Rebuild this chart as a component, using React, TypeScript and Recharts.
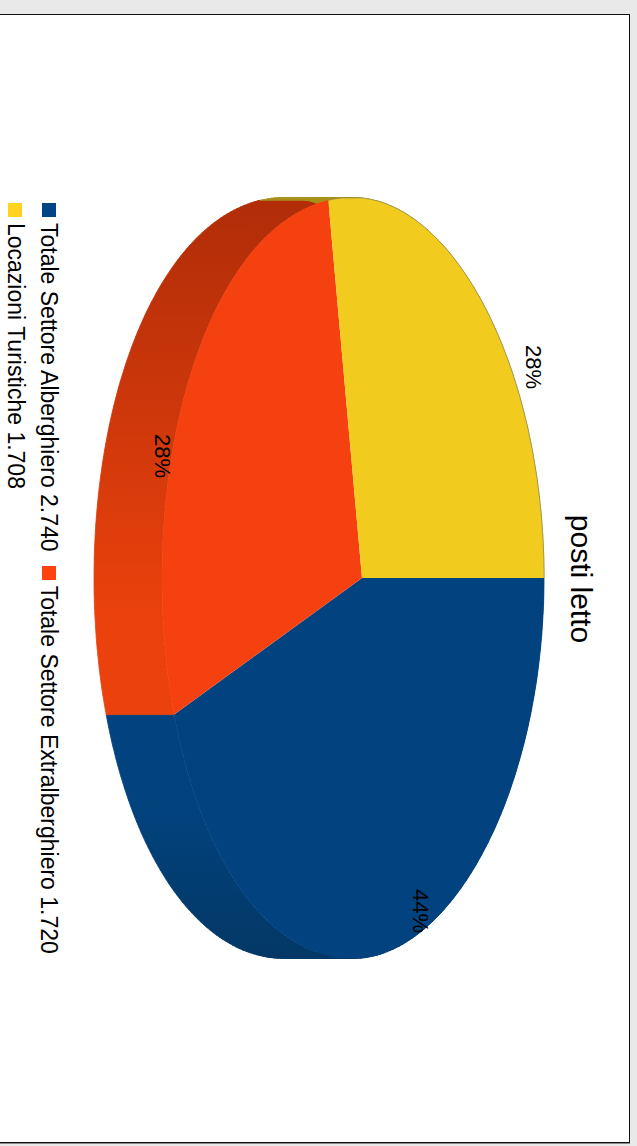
import { PieChart, Pie, Cell, Legend } from "recharts";

const categories = ["Totale Settore Alberghiero", "Totale Settore Extralberghiero", "Locazioni Turistiche"];
const values = [2740, 1720, 1708];
const valueLabels = ["2.740", "1.720", "1.708"];
const faceColors = ["#02437f", "#f5400f", "#f2cb1f"];
const legendColors = ["#004586", "#ff420e", "#ffd320"];
const wallColors = ["url(#wallBlue)", "url(#wallOrange)", "#a8921c"];

const data = categories.map((name, i) => ({
  name: `${name} ${valueLabels[i]}`,
  value: values[i],
}));

const CHART_W = 1128;
const CHART_H = 629;
const CX = 564;
const CY = 267;
const DEPTH = 68;
const FONT = "'Liberation Sans', Arial, sans-serif";

// the original is a 3d pie, so the two halves of the face are not quite the same size
const ellipsePoint = (angle: number, rx: number, lift: number) => {
  const a = (angle * Math.PI) / 180;
  const u = Math.cos(a);
  const v = Math.sin(a);
  const up = v > 0 ? 182 : 200;
  const along = Math.max(-rx, Math.min(rx, rx * u * (1 - 0.05 * v)));
  return [CX + along, CY - v * up + lift];
};

const arcPoints = (start: number, end: number, rx: number, lift: number) => {
  const n = Math.max(2, Math.ceil(Math.abs(end - start)));
  const pts = [];
  for (let i = 0; i <= n; i++) {
    pts.push(ellipsePoint(start + ((end - start) * i) / n, rx, lift));
  }
  return pts;
};

const toPath = (pts: number[][], close = true) =>
  "M" + pts.map((p) => `${p[0].toFixed(1)},${p[1].toFixed(1)}`).join("L") + (close ? "Z" : "");

const FaceSector = (props: any) => {
  const { startAngle, endAngle, outerRadius, fill, index } = props;
  const arc = arcPoints(startAngle, endAngle, outerRadius, 0);
  return (
    <g>
      <path d={toPath([[CX, CY], ...arc])} fill={fill} />
      {index === 2 && <path d={toPath(arc, false)} fill="none" stroke="#8f8a60" strokeWidth={0.6} />}
    </g>
  );
};

// side of the pie: one quad per step, same winding, so the sweep has no notch at the ends
const WallSector = (props: any) => {
  const { startAngle, endAngle, outerRadius, fill } = props;
  const front = arcPoints(startAngle, endAngle, outerRadius, 0);
  const back = arcPoints(startAngle, endAngle, outerRadius, DEPTH);
  const quads = [];
  for (let i = 0; i < front.length - 1; i++) {
    const q = [front[i], front[i + 1], back[i + 1], back[i]];
    let area = 0;
    q.forEach((p, j) => {
      const n = q[(j + 1) % 4];
      area += p[0] * n[1] - n[0] * p[1];
    });
    quads.push(toPath(area < 0 ? q.slice().reverse() : q));
  }
  return <path d={quads.join("")} fill={fill} stroke={fill} strokeWidth={0.8} />;
};

// label spots, the original does not centre them in the slices
const labelSpots = [
  [897, 209],
  [442, 467],
  [353, 96],
];

const SliceLabel = (props: any) => {
  const { index, percent } = props;
  const spot = labelSpots[index];
  return (
    <text x={spot[0]} y={spot[1]} textAnchor="middle" dominantBaseline="central" fontFamily={FONT} fontSize={22} fill="#000">
      {`${Math.round(percent * 100)}%`}
    </text>
  );
};

const LegendBlock = (props: any) => {
  const shown = (props.payload || []).map((entry: any) => entry.value);
  const rows = data
    .map((d, i) => ({ label: d.name, color: legendColors[i] }))
    .filter((row) => shown.includes(row.label));
  const item = (row: any) => (
    <span key={row.label} style={{ display: "inline-flex", alignItems: "center", marginRight: 14 }}>
      <span style={{ width: 14, height: 14, background: row.color, marginRight: 6 }} />
      <span>{row.label}</span>
    </span>
  );
  return (
    <div style={{ fontFamily: FONT, fontSize: 23, lineHeight: "33px", color: "#000", whiteSpace: "nowrap" }}>
      <div>{rows.slice(0, 2).map(item)}</div>
      <div>{rows.slice(2).map(item)}</div>
    </div>
  );
};

export default function App() {
  return (
    <div style={{ position: "absolute", left: 0, top: 0, width: 637, height: 1146, background: "#e9e9e9", overflow: "hidden" }}>
      <div
        style={{
          position: "absolute",
          left: -2,
          top: 14,
          width: 630,
          height: 1127,
          background: "#fff",
          border: "1px solid #111",
          boxShadow: "0 1px 0 #888",
        }}
      />
      <div style={{ position: "absolute", left: 629, top: 14, width: CHART_W, height: CHART_H, transform: "rotate(90deg)", transformOrigin: "0 0" }}>
        <PieChart width={CHART_W} height={CHART_H} margin={{ top: 0, right: 0, bottom: 0, left: 0 }}>
          <defs>
            <linearGradient id="wallOrange" gradientUnits="userSpaceOnUse" x1={184} y1={0} x2={600} y2={0}>
              <stop offset="0" stopColor="#b02d08" />
              <stop offset="1" stopColor="#ea410d" />
            </linearGradient>
            <linearGradient id="wallBlue" gradientUnits="userSpaceOnUse" x1={780} y1={0} x2={944} y2={0}>
              <stop offset="0" stopColor="#02437f" />
              <stop offset="1" stopColor="#033866" />
            </linearGradient>
          </defs>
          <text x={565} y={48} textAnchor="middle" dominantBaseline="central" fontFamily={FONT} fontSize={30} fill="#000">
            posti letto
          </text>
          <Pie
            data={data}
            dataKey="value"
            nameKey="name"
            cx={CX}
            cy={CY}
            outerRadius={380}
            startAngle={90}
            endAngle={-270}
            legendType="none"
            stroke="none"
            shape={WallSector}
            isAnimationActive={false}
          >
            {data.map((d, i) => (
              <Cell key={d.name} fill={wallColors[i]} />
            ))}
          </Pie>
          <Pie
            data={data}
            dataKey="value"
            nameKey="name"
            cx={CX}
            cy={CY}
            outerRadius={380}
            startAngle={90}
            endAngle={-270}
            stroke="none"
            shape={FaceSector}
            label={SliceLabel}
            labelLine={false}
            isAnimationActive={false}
          >
            {data.map((d, i) => (
              <Cell key={d.name} fill={faceColors[i]} />
            ))}
          </Pie>
          <Legend
            content={LegendBlock}
            wrapperStyle={{ position: "absolute", left: 189, top: 563, width: 900, height: 66 }}
          />
        </PieChart>
      </div>
    </div>
  );
}
